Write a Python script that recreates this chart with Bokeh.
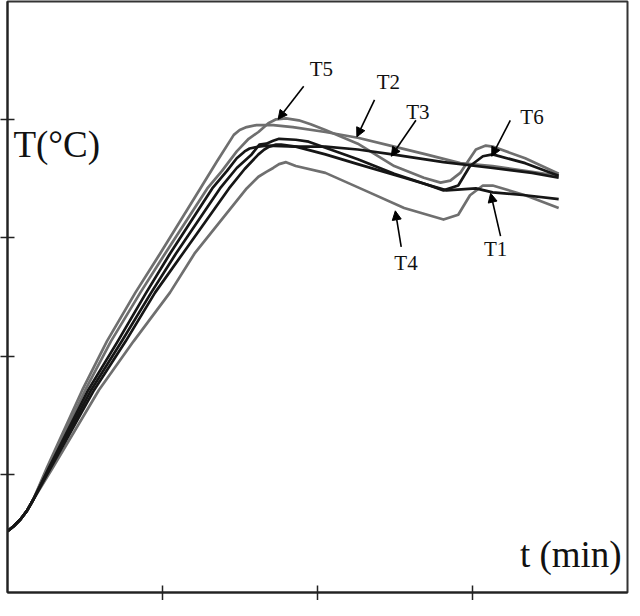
from bokeh.plotting import figure
from bokeh.models import Range1d, FixedTicker, Arrow, NormalHead, ColumnDataSource
from bokeh.core.properties import value
from bokeh.embed import file_html
from bokeh.resources import INLINE

# ---- data (t in min, T in degC) ----
t2_t = [0, 0.40, 0.83, 1.25, 1.65, 2.54, 4.83, 6.41, 8.25, 9.84, 12.44, 13.52, 14.60, 14.98, 15.43, 16.06, 17.14, 18.41, 20.51, 22.60, 24.95, 27.0, 29.21, 31.30, 33.40, 35.56]
t2_T = [10.38, 11.20, 12.36, 13.80, 15.65, 21.09, 34.27, 42.50, 50.74, 57.33, 68.37, 72.98, 77.43, 78.25, 78.75, 79.08, 79.08, 78.75, 77.92, 76.94, 75.45, 74.13, 72.65, 72.16, 71.34, 70.51]

t5_t = [0, 0.40, 0.83, 1.25, 1.65, 2.60, 5.02, 6.67, 8.57, 10.16, 12.89, 13.84, 14.79, 15.56, 16.19, 16.83, 17.33, 17.97, 18.79, 19.56, 20.51, 22.60, 24.95, 26.86, 27.94, 28.57, 29.21, 29.71, 30.22, 30.86, 31.30, 33.40, 35.56]
t5_T = [10.38, 11.20, 12.36, 13.80, 15.65, 21.09, 34.27, 42.50, 50.74, 57.33, 68.37, 71.34, 74.63, 76.77, 77.92, 79.41, 80.07, 80.23, 79.90, 79.24, 78.25, 75.95, 72.16, 70.18, 69.36, 69.69, 71.00, 72.98, 74.96, 75.62, 75.45, 73.48, 70.84]

t3_t = [0, 0.40, 0.83, 1.25, 1.65, 2.67, 5.21, 7.11, 8.95, 10.48, 13.21, 14.16, 14.79, 15.30, 15.62, 16.19, 16.70, 18.60, 20.51, 22.60, 24.83, 28.13, 31.30, 33.84, 35.56]
t3_T = [10.38, 11.20, 12.36, 13.80, 15.65, 21.09, 34.27, 42.50, 50.74, 57.33, 68.37, 71.34, 73.48, 74.63, 75.12, 75.45, 75.62, 75.45, 75.45, 74.96, 74.13, 72.82, 71.83, 71.00, 70.18]

t6_t = [0, 0.40, 0.83, 1.25, 1.65, 2.73, 5.40, 7.37, 9.27, 10.86, 13.71, 14.79, 15.75, 16.25, 16.70, 17.14, 17.52, 18.60, 19.43, 22.60, 24.95, 26.86, 28.13, 29.08, 29.84, 30.67, 31.30, 33.40, 35.56]
t6_T = [10.38, 11.20, 12.36, 13.80, 15.65, 21.09, 34.27, 42.50, 50.74, 57.33, 68.37, 71.83, 74.13, 75.78, 75.95, 76.44, 76.77, 76.61, 76.28, 73.31, 70.84, 69.19, 68.04, 68.86, 72.16, 73.81, 74.13, 72.65, 70.51]

t1_t = [0, 0.40, 0.83, 1.25, 1.65, 2.79, 5.59, 7.62, 9.52, 11.30, 14.29, 15.30, 16.19, 16.57, 16.89, 17.33, 17.65, 18.60, 20.51, 22.60, 25.59, 28.32, 30.22, 31.30, 33.40, 35.56]
t1_T = [10.38, 11.20, 12.36, 13.80, 15.65, 21.09, 34.27, 42.50, 50.74, 57.33, 68.37, 71.66, 74.13, 74.96, 75.45, 75.78, 75.78, 75.45, 74.13, 72.49, 70.18, 68.04, 68.37, 67.71, 67.22, 66.56]

t4_t = [0, 0.40, 0.83, 1.25, 1.65, 2.92, 5.90, 8.13, 10.48, 12.06, 15.43, 16.19, 16.70, 17.14, 17.52, 17.97, 18.60, 20.51, 23.05, 25.59, 28.13, 29.08, 29.84, 30.67, 31.30, 33.40, 35.56]
t4_T = [10.38, 11.20, 12.36, 13.80, 15.65, 21.09, 34.27, 42.50, 50.74, 57.33, 68.37, 70.35, 71.17, 71.83, 72.49, 72.82, 72.16, 71.00, 68.04, 65.07, 63.10, 63.92, 67.22, 68.86, 68.86, 67.22, 65.07]

x_ticks = [10, 20, 30]
y_ticks = [20, 40, 60, 80]

# annotation labels and arrows
lab_names = ["T5", "T2", "T3", "T6", "T4", "T1"]
lab_x = [20.25, 24.57, 26.48, 33.84, 25.71, 31.49]
lab_y = [88.63, 86.33, 81.22, 80.40, 55.68, 58.15]
arr_x0 = [19.11, 23.68, 26.35, 32.44, 25.40, 31.81]
arr_y0 = [85.67, 83.36, 79.90, 79.90, 58.48, 60.30]
arr_x1 = [17.46, 22.54, 24.76, 31.24, 25.02, 31.17]
arr_y1 = [80.07, 77.10, 73.81, 73.81, 64.58, 67.55]

GRAY = "#6f6f6f"
BLACK = "#161616"

p = figure(width=630, height=600, output_backend="svg", toolbar_location=None,
           x_range=Range1d(0, 40), y_range=Range1d(0, 100),
           min_border_left=7, min_border_right=3, min_border_top=1, min_border_bottom=8)
p.background_fill_color = "white"
p.border_fill_color = "white"
p.grid.visible = False
p.outline_line_color = "#333333"
p.outline_line_width = 2

for ax, ticks, tout in ((p.xaxis, x_ticks, 8), (p.yaxis, y_ticks, 7)):
    ax.ticker = FixedTicker(ticks=ticks)
    ax.major_tick_in = 7
    ax.major_tick_out = tout
    ax.minor_tick_line_color = None
    ax.major_label_text_font_size = "0px"
    ax.major_label_text_color = None
    ax.major_label_standoff = 0
    ax.axis_line_width = 2
    ax.major_tick_line_width = 1.5
    ax.axis_line_color = "#222222"
    ax.major_tick_line_color = "#222222"

series = [(t4_t, t4_T, GRAY), (t2_t, t2_T, GRAY), (t5_t, t5_T, GRAY),
          (t3_t, t3_T, BLACK), (t6_t, t6_T, BLACK), (t1_t, t1_T, BLACK)]
for xs, ys, c in series:
    p.line(xs, ys, line_color=c, line_width=2.7, line_join="round")

for i in range(len(lab_names)):
    p.add_layout(Arrow(end=NormalHead(size=9, fill_color="black", line_color="black"),
                       x_start=arr_x0[i], y_start=arr_y0[i], x_end=arr_x1[i], y_end=arr_y1[i],
                       line_color="black", line_width=1.6))

src = ColumnDataSource(dict(x=lab_x, y=lab_y, t=lab_names))
p.text(x="x", y="y", text="t", source=src, text_font=value("Liberation Serif"),
       text_font_size="21px", text_align="center", text_baseline="middle", text_color="#111111")

p.text(x=[0.38], y=[75.75], text=["T(°C)"], text_font=value("Liberation Serif"),
       text_font_size="37px", text_align="left", text_baseline="middle", text_color="#111111")
p.text(x=[39.62], y=[6.38], text=["t (min)"], text_font=value("Liberation Serif"),
       text_font_size="37px", text_align="right", text_baseline="middle", text_color="#111111")

open("out.html", "w").write(file_html(p, INLINE))
